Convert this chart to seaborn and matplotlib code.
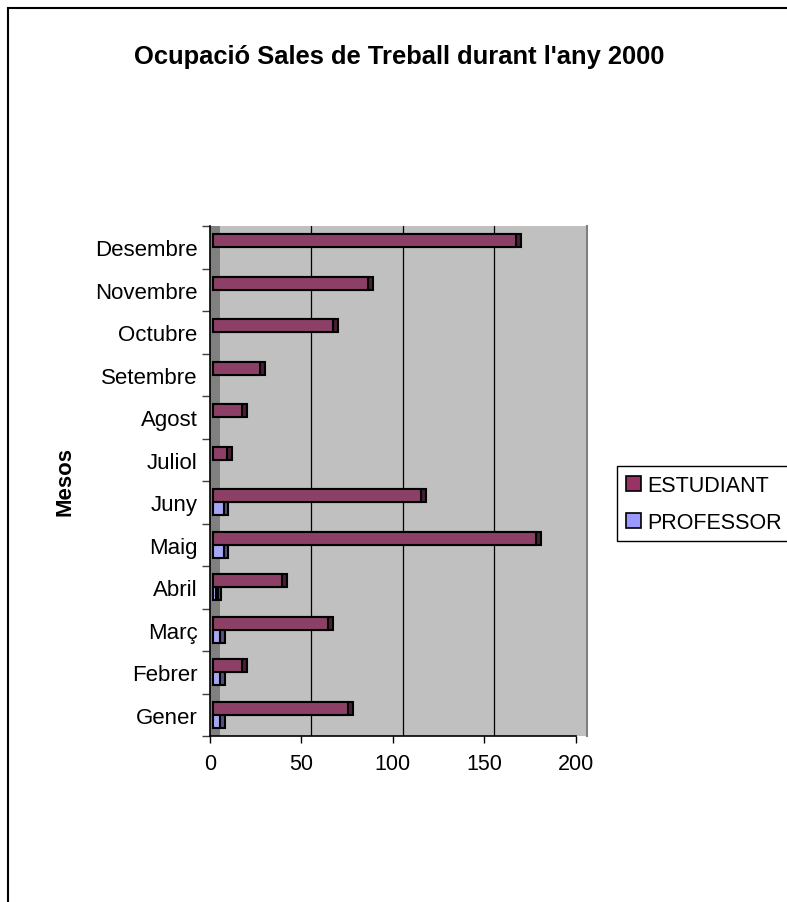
import pandas as pd
import matplotlib
matplotlib.use('Agg')
import matplotlib.pyplot as plt
import matplotlib.transforms as mtransforms
from matplotlib.patches import Rectangle, Patch
import seaborn as sns

mesos = ['Gener', 'Febrer', 'Març', 'Abril', 'Maig', 'Juny',
         'Juliol', 'Agost', 'Setembre', 'Octubre', 'Novembre', 'Desembre']
estudiant = [74, 16, 63, 38, 177, 114, 8, 16, 26, 66, 85, 166]
professor = [4, 4, 4, 2, 6, 6, 0, 0, 0, 0, 0, 0]
tipus = ['ESTUDIANT', 'PROFESSOR']
x_ticks = [0, 50, 100, 150, 200]

data = pd.DataFrame({
    'mes': mesos * 2,
    'tipus': ['ESTUDIANT'] * len(mesos) + ['PROFESSOR'] * len(mesos),
    'valor': estudiant + professor,
})
data_draw = data[data['valor'] > 0]
order = mesos[::-1]

color_front = {'ESTUDIANT': '#993366', 'PROFESSOR': '#9999ff'}
color_side = {'ESTUDIANT': '#4d1a33', 'PROFESSOR': '#4d4d80'}

sns.set_style('white')
plt.rcParams['font.family'] = ['Liberation Sans', 'DejaVu Sans']
plt.rcParams['text.color'] = 'black'
plt.rcParams['axes.labelcolor'] = 'black'
plt.rcParams['xtick.color'] = 'black'
plt.rcParams['ytick.color'] = 'black'

fig = plt.figure(figsize=(7.87, 9.03), dpi=100)
ax = fig.add_axes([210 / 787, 1 - 737 / 903, 377 / 787, 510 / 903])
ax.set_facecolor('#c0c0c0')

def shift(px):
    return mtransforms.ScaledTranslation(px / 100, 0, fig.dpi_scale_trans)

# 3D look: side face (dark) behind the front face
n0 = len(ax.patches)
sns.barplot(data=data_draw, x='valor', y='mes', hue='tipus', order=order,
            hue_order=tipus, palette=color_side, width=0.62, errorbar=None,
            edgecolor='black', linewidth=1.5, legend=False, ax=ax)
for p in ax.patches[n0:]:
    p.set_transform(ax.transData + shift(7.5))
    p.set_zorder(2)
n1 = len(ax.patches)
sns.barplot(data=data_draw, x='valor', y='mes', hue='tipus', order=order,
            hue_order=tipus, palette=color_front, width=0.62, errorbar=None,
            edgecolor='black', linewidth=1.5, legend=False, ax=ax)
for p in ax.patches[n1:]:
    p.set_transform(ax.transData + shift(2.7))
    p.set_zorder(3)

ax.set_xlim(0, 206.2)
ax.set_ylim(len(mesos) - 0.5, -0.5)

# back wall gridlines and side wall
for t in x_ticks[1:-1]:
    gl = ax.axvline(t, color='black', lw=0.9, zorder=1)
    gl.set_transform(gl.get_transform() + shift(10))
ax.add_patch(Rectangle((0, 0), 10 / 377, 1, transform=ax.transAxes,
                       facecolor='#808080', edgecolor='none', zorder=1.5))

ax.spines['top'].set_visible(False)
ax.spines['right'].set_color('#808080')
ax.spines['right'].set_linewidth(1.5)
ax.spines['left'].set_color('black')
ax.spines['left'].set_linewidth(1.2)
ax.spines['bottom'].set_color('black')
ax.spines['bottom'].set_linewidth(1.2)
ax.spines['bottom'].set_bounds(0, 200)

ax.set_xticks(x_ticks)
ax.set_xticklabels([str(t) for t in x_ticks], fontsize=15.5)
ax.tick_params(axis='x', length=5, width=1, pad=7, color='black', bottom=True)
ax.set_yticks(range(len(order)))
ax.set_yticklabels(order, fontsize=16)
ax.set_yticks([i - 0.5 for i in range(len(order) + 1)], minor=True)
ax.tick_params(axis='y', which='major', length=0, pad=9)
ax.tick_params(axis='y', which='minor', length=6, width=1, color='#404040', left=True)
ax.set_xlabel('')
ax.set_ylabel('')

fig.text(399.5 / 787, 1 - 57 / 903, "Ocupació Sales de Treball durant l'any 2000",
         ha='center', va='center', fontsize=18.4, fontweight='bold')
fig.text(65 / 787, 1 - 482 / 903, 'Mesos', rotation=90, ha='center', va='center',
         fontsize=16, fontweight='bold')

handles = [Patch(facecolor=color_front[t], edgecolor='black', linewidth=1.2) for t in tipus]
fig.legend(handles, tipus, loc='upper left', bbox_to_anchor=(617 / 787, 1 - 467 / 903),
           fontsize=15.5, frameon=True, fancybox=False, edgecolor='black',
           framealpha=1, handlelength=0.7, handleheight=0.7, handletextpad=0.3,
           labelspacing=0.75, borderpad=0.4, borderaxespad=0)

fig.patches.append(Rectangle((8 / 787, -0.5), 2, 0.5 + 1 - 9 / 903,
                             transform=fig.transFigure, fill=False,
                             edgecolor='black', linewidth=1.5))

fig.savefig('out.png', dpi=100)
